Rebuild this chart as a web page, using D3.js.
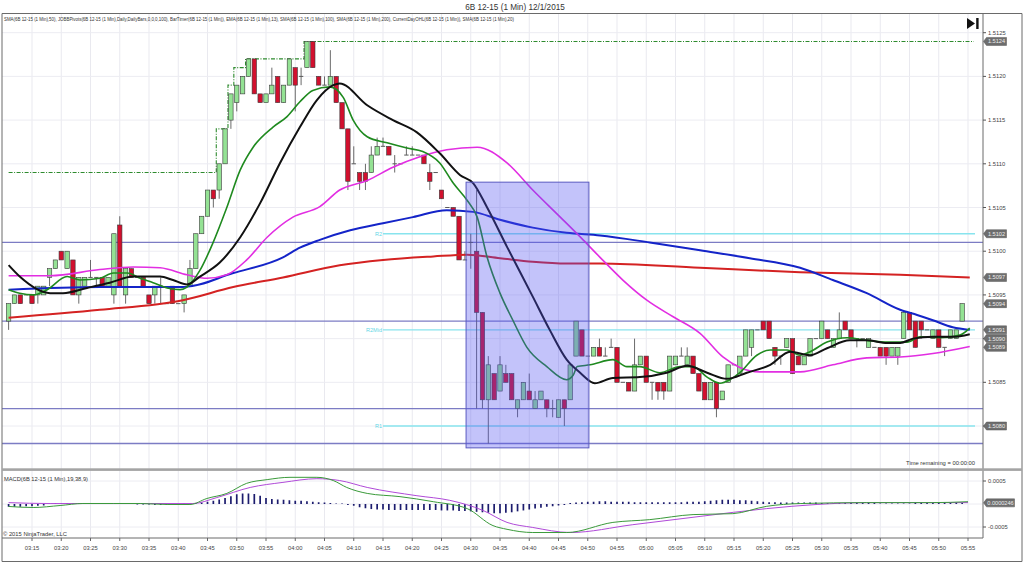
<!DOCTYPE html>
<html><head><meta charset="utf-8">
<script src="https://cdn.jsdelivr.net/npm/d3@7"></script>
<style>body{margin:0;background:#fff}svg{display:block;font-family:"Liberation Sans",Arial,sans-serif}</style>
</head><body><svg id="c" width="1024" height="563"></svg>
<script>
// ---------------- DATA ----------------
const title = "6B 12-15 (1 Min)  12/1/2015";
const indicatorText = "SMA(6B 12-15 (1 Min),50), JOBBPivots(6B 12-15 (1 Min),Daily,DailyBars,0,0,0,100), BarTimer(6B 12-15 (1 Min)), EMA(6B 12-15 (1 Min),13), SMA(6B 12-15 (1 Min),100), SMA(6B 12-15 (1 Min),200), CurrentDayOHL(6B 12-15 (1 Min)), SMA(6B 12-15 (1 Min),20)";
const firstBarTime = "03:11";
const timeLabels = ["03:15","03:20","03:25","03:30","03:35","03:40","03:45","03:50","03:55","04:00","04:05","04:10","04:15","04:20","04:25","04:30","04:35","04:40","04:45","04:50","04:55","05:00","05:05","05:10","05:15","05:20","05:25","05:30","05:35","05:40","05:45","05:50","05:55"];
const priceTicks = [1.5125,1.5120,1.5115,1.5110,1.5105,1.5100,1.5095,1.5090,1.5085,1.5080];
const macdTicks = [0.0005,-0.0005];

const opens = [1.5092,1.5094,1.5095,1.5095,1.5095,1.5095,1.5095,1.5097,1.5098,1.5100,1.5098,1.5099,1.5095,1.5096,1.5097,1.5097,1.5097,1.5096,1.5095,1.5103,
1.5095,1.5098,1.5097,1.5097,1.5095,1.5095,1.5096,1.5094,1.5096,1.5094,1.5094,1.5096,1.5098,1.5102,1.5104,1.5107,1.5107,1.5110,1.5115,1.5117,
1.5118,1.5120,1.5122,1.5118,1.5117,1.5118,1.5120,1.5117,1.5119,1.5121,1.5120,1.5121,1.5124,1.5120,1.5119,1.5119,1.5120,1.5117,1.5114,1.5110,
1.5109,1.5109,1.5109,1.5111,1.5112,1.5112,1.5110,1.5110,1.5111,1.5111,1.5111,1.5111,1.5109,1.5109,1.5107,1.5105,1.5105,1.5104,1.5099,1.5101,
1.5100,1.5093,1.5083,1.5086,1.5084,1.5086,1.5086,1.5082,1.5083,1.5084,1.5082,1.5083,1.5083,1.5082,1.5081,1.5083,1.5083,1.5088,1.5091,1.5088,
1.5088,1.5089,1.5088,1.5089,1.5089,1.5085,1.5085,1.5084,1.5087,1.5088,1.5085,1.5085,1.5085,1.5084,1.5087,1.5088,1.5087,1.5088,1.5086,1.5085,
1.5083,1.5085,1.5083,1.5085,1.5087,1.5086,1.5088,1.5089,1.5091,1.5092,1.5092,1.5089,1.5088,1.5089,1.5090,1.5088,1.5087,1.5088,1.5090,1.5090,
1.5091,1.5089,1.5090,1.5092,1.5091,1.5090,1.5090,1.5089,1.5089,1.5089,1.5089,1.5088,1.5088,1.5090,1.5093,1.5092,1.5092,1.5091,1.5090,1.5091,
1.5089,1.5090,1.5090,1.5092];
const highs = [1.5094,1.5095,1.5095,1.5095,1.5095,1.5096,1.5096,1.5098,1.5099,1.5100,1.5100,1.5099,1.5097,1.5097,1.5099,1.5097,1.5097,1.5097,1.5102,1.5104,
1.5098,1.5098,1.5097,1.5097,1.5095,1.5096,1.5097,1.5094,1.5096,1.5094,1.5095,1.5099,1.5102,1.5104,1.5107,1.5107,1.5110,1.5114,1.5118,1.5119,
1.5120,1.5122,1.5122,1.5118,1.5118,1.5121,1.5120,1.5119,1.5122,1.5121,1.5121,1.5124,1.5124,1.5120,1.5120,1.5123,1.5120,1.5117,1.5114,1.5112,
1.5109,1.5110,1.5112,1.5113,1.5113,1.5112,1.5111,1.5110,1.5112,1.5112,1.5111,1.5111,1.5110,1.5109,1.5107,1.5105,1.5105,1.5104,1.5100,1.5102,
1.5107,1.5093,1.5088,1.5086,1.5088,1.5087,1.5086,1.5083,1.5085,1.5086,1.5084,1.5084,1.5083,1.5083,1.5083,1.5083,1.5087,1.5092,1.5091,1.5088,
1.5089,1.5090,1.5089,1.5090,1.5089,1.5085,1.5085,1.5090,1.5088,1.5088,1.5085,1.5085,1.5085,1.5088,1.5088,1.5089,1.5089,1.5088,1.5086,1.5085,
1.5085,1.5085,1.5084,1.5087,1.5087,1.5088,1.5091,1.5091,1.5091,1.5092,1.5092,1.5089,1.5088,1.5090,1.5090,1.5088,1.5088,1.5090,1.5090,1.5092,
1.5091,1.5090,1.5093,1.5092,1.5091,1.5090,1.5090,1.5090,1.5089,1.5089,1.5089,1.5089,1.5089,1.5093,1.5093,1.5092,1.5092,1.5091,1.5091,1.5091,
1.5089,1.5091,1.5091,1.5094];
const lows = [1.5091,1.5094,1.5094,1.5095,1.5094,1.5094,1.5095,1.5096,1.5098,1.5099,1.5098,1.5095,1.5094,1.5096,1.5097,1.5096,1.5096,1.5096,1.5094,1.5096,
1.5094,1.5097,1.5097,1.5096,1.5094,1.5094,1.5094,1.5094,1.5094,1.5094,1.5093,1.5096,1.5098,1.5102,1.5104,1.5105,1.5106,1.5110,1.5114,1.5116,
1.5118,1.5120,1.5118,1.5117,1.5117,1.5118,1.5117,1.5117,1.5119,1.5116,1.5119,1.5121,1.5121,1.5119,1.5119,1.5119,1.5117,1.5114,1.5107,1.5110,
1.5107,1.5107,1.5109,1.5111,1.5112,1.5111,1.5109,1.5110,1.5111,1.5111,1.5111,1.5110,1.5107,1.5109,1.5106,1.5105,1.5104,1.5099,1.5099,1.5098,
1.5082,1.5082,1.5078,1.5083,1.5084,1.5085,1.5083,1.5081,1.5083,1.5083,1.5082,1.5083,1.5081,1.5081,1.5081,1.5080,1.5083,1.5088,1.5088,1.5088,
1.5088,1.5088,1.5088,1.5089,1.5085,1.5085,1.5084,1.5084,1.5087,1.5085,1.5083,1.5083,1.5083,1.5084,1.5087,1.5088,1.5087,1.5086,1.5084,1.5083,
1.5083,1.5081,1.5083,1.5085,1.5087,1.5086,1.5088,1.5088,1.5091,1.5091,1.5090,1.5087,1.5087,1.5089,1.5086,1.5087,1.5087,1.5088,1.5090,1.5090,
1.5090,1.5089,1.5090,1.5091,1.5090,1.5089,1.5090,1.5089,1.5089,1.5088,1.5087,1.5088,1.5087,1.5090,1.5091,1.5089,1.5090,1.5091,1.5090,1.5089,
1.5088,1.5090,1.5090,1.5092];
const closes = [1.5094,1.5095,1.5094,1.5095,1.5094,1.5096,1.5096,1.5098,1.5099,1.5099,1.5100,1.5095,1.5097,1.5097,1.5097,1.5097,1.5096,1.5097,1.5102,1.5096,
1.5098,1.5097,1.5097,1.5096,1.5094,1.5096,1.5096,1.5094,1.5094,1.5094,1.5095,1.5098,1.5102,1.5104,1.5107,1.5106,1.5110,1.5114,1.5118,1.5119,
1.5120,1.5122,1.5118,1.5117,1.5118,1.5119,1.5117,1.5119,1.5122,1.5119,1.5120,1.5124,1.5121,1.5119,1.5119,1.5120,1.5117,1.5114,1.5108,1.5110,
1.5108,1.5108,1.5111,1.5112,1.5112,1.5111,1.5110,1.5110,1.5111,1.5111,1.5111,1.5110,1.5108,1.5109,1.5106,1.5105,1.5104,1.5099,1.5099,1.5101,
1.5093,1.5083,1.5087,1.5083,1.5087,1.5085,1.5083,1.5083,1.5085,1.5083,1.5083,1.5084,1.5082,1.5082,1.5083,1.5082,1.5087,1.5092,1.5088,1.5088,
1.5089,1.5088,1.5088,1.5089,1.5085,1.5085,1.5084,1.5087,1.5088,1.5085,1.5085,1.5084,1.5084,1.5088,1.5088,1.5088,1.5088,1.5086,1.5084,1.5083,
1.5085,1.5082,1.5084,1.5087,1.5087,1.5088,1.5091,1.5091,1.5091,1.5091,1.5090,1.5088,1.5088,1.5090,1.5086,1.5087,1.5088,1.5090,1.5090,1.5092,
1.5090,1.5090,1.5091,1.5091,1.5090,1.5090,1.5090,1.5090,1.5089,1.5088,1.5088,1.5089,1.5089,1.5093,1.5091,1.5089,1.5091,1.5091,1.5091,1.5089,
1.5089,1.5091,1.5091,1.5094];

// moving averages: [bar index, price]
const ema13 = [[0,1.50956],[1.9,1.50952],[4.2,1.50950],[6.6,1.50956],[10,1.50971],[12.2,1.50967],[15.6,1.50969],[17.9,1.50975],[20.3,1.50975],[22.5,1.50969],[24.7,1.50964],[27.1,1.50958],[29.3,1.50956],[30.5,1.50959],[32.7,1.50978],[34.9,1.51009],[37.3,1.51050],[39.6,1.51093],[41.8,1.51119],[45.2,1.51142],[47.6,1.51154],[49.8,1.51171],[52,1.51184],[54.9,1.51188],[57.2,1.51176],[58.9,1.51150],[61.3,1.51131],[64.7,1.51124],[68.1,1.51118],[70.8,1.51114],[73.7,1.51101],[76,1.51078],[78.4,1.51058],[80.1,1.51039],[81.8,1.50993],[84,1.50952],[86.2,1.50921],[88.6,1.50890],[92,1.50868],[95.4,1.50853],[96.5,1.50858],[97.2,1.50868],[99.4,1.50870],[103.3,1.50876],[105.7,1.50868],[107.9,1.50868],[111.3,1.50861],[114.8,1.50868],[117,1.50868],[119.4,1.50856],[121.6,1.50849],[123.3,1.50853],[125,1.50861],[127.9,1.50881],[130.2,1.50887],[133.1,1.50887],[135.3,1.50881],[137,1.50885],[139.9,1.50896],[143.3,1.50901],[146.7,1.50898],[150.2,1.50896],[153.6,1.50896],[155.8,1.50902],[159.2,1.50901],[162.6,1.50904],[164.3,1.50912]];
const sma20 = [[0,1.50984],[1.9,1.50971],[7.1,1.50952],[9.3,1.50952],[13.4,1.50958],[17.3,1.50964],[21.3,1.50971],[25.9,1.50971],[28.1,1.50967],[30.5,1.50962],[32.7,1.50971],[36.1,1.50987],[39.6,1.51016],[43,1.51055],[46.4,1.51101],[49.8,1.51142],[52.7,1.51173],[55.5,1.51190],[56.6,1.51192],[61.3,1.51167],[65.7,1.51150],[69.8,1.51136],[73.7,1.51112],[77.2,1.51087],[79.4,1.51078],[81.8,1.51050],[85.2,1.51005],[89.6,1.50948],[92.5,1.50910],[95.4,1.50876],[97.7,1.50861],[100.2,1.50849],[103.3,1.50855],[107.9,1.50856],[112.5,1.50861],[116,1.50869],[119.4,1.50861],[122.8,1.50854],[126.2,1.50861],[130.2,1.50870],[133.6,1.50885],[137,1.50881],[139.9,1.50889],[143.8,1.50898],[146.7,1.50898],[150.2,1.50895],[152.4,1.50895],[154.6,1.50900],[158,1.50902],[161.4,1.50902],[164.3,1.50905]];
const sma50 = [[0,1.50972],[7.1,1.50972],[15.6,1.50979],[21.3,1.50982],[25.9,1.50981],[30.5,1.50973],[33.9,1.50969],[37.3,1.50973],[40.7,1.50990],[44.2,1.51016],[48.6,1.51039],[53.2,1.51051],[56.6,1.51070],[61.3,1.51081],[65.7,1.51096],[70.3,1.51108],[74.9,1.51116],[80.1,1.51119],[85.2,1.51101],[89.6,1.51070],[94.3,1.51039],[98.2,1.51013],[101.1,1.50993],[105,1.50967],[109.1,1.50944],[113.6,1.50925],[118.2,1.50906],[122.1,1.50879],[125,1.50867],[128.4,1.50862],[135.3,1.50862],[140.9,1.50870],[146.7,1.50878],[152.4,1.50879],[158,1.50883],[164.3,1.50891]];
const sma100 = [[0,1.50956],[15.6,1.50959],[29.8,1.50959],[38.4,1.50975],[46.9,1.50993],[49.8,1.51004],[53.2,1.51013],[58.4,1.51024],[64,1.51032],[69.1,1.51039],[74.9,1.51047],[79.4,1.51045],[84,1.51036],[89.6,1.51027],[95.4,1.51021],[101.1,1.51018],[109.6,1.51010],[118.2,1.51001],[126.7,1.50992],[135.3,1.50981],[140.9,1.50967],[146.7,1.50952],[152.4,1.50933],[155.3,1.50927],[158,1.50921],[161.4,1.50913],[164.3,1.50910]];
const sma200 = [[0,1.50924],[15.6,1.50933],[29.8,1.50944],[38.4,1.50959],[46.9,1.50970],[56.6,1.50984],[64,1.50990],[72.6,1.50994],[78.4,1.50996],[84,1.50992],[89.6,1.50988],[95.4,1.50986],[101.1,1.50986],[118.2,1.50981],[135.3,1.50976],[152.4,1.50973],[164.3,1.50970]];

// MACD(19,38,9)
const macdLine = [[0,-0.000054],[4.2,-0.000076],[8.8,-0.000033],[12.7,0.000011],[17.9,0.000011],[22.5,0.000011],[27.1,-0.000011],[31,-0.000011],[33.9,0.00012],[37.3,0.00023],[40.7,0.00045],[44.2,0.00053],[48.1,0.00058],[52.7,0.00058],[55.5,0.00051],[57.8,0.00036],[61.3,0.00023],[66.9,0.00016],[72.6,0.00005],[78.4,-0.0001],[82.8,-0.00047],[85.2,-0.00055],[89.6,-0.00062],[95.4,-0.00062],[103.3,-0.0004],[109.6,-0.00034],[117,-0.00023],[123.8,-0.00021],[129.6,-0.00005],[135.3,0.00001],[146.7,0.00003],[158,0.00003],[164,0.00005]];
const macdSignal = [[0,0.00003],[7.1,0.00001],[15.6,0.00001],[24.2,0.00001],[31.5,0.00001],[35.6,0.00014],[41.3,0.00036],[46.9,0.00047],[52.7,0.00055],[56.6,0.00051],[61.3,0.00036],[69.8,0.00018],[75.4,0.00008],[81.1,-0.00014],[85.2,-0.0004],[89.6,-0.00051],[96,-0.00062],[106.7,-0.00045],[118.2,-0.00027],[129.6,-0.0001],[138.2,-0.00001],[146.7,0.00003],[164,0.00003]];
const macdHist = [-0.00006,-0.00006,-0.00006,-0.00005,-0.00005,-0.00004,-0.00003,
0.00001,0.00002,0.00002,0.00002,0.00002,0.00002,0.00001,0.00001,0.00001,0.00001,
0.00001,0.00001,0,0,0,-0.00001,-0.00001,-0.00001,-0.00002,-0.00002,-0.00002,-0.00001,
-0.00001,0,0.00001,0.00002,0.00003,
0.00005,0.00007,0.0001,0.00013,0.00017,0.00021,0.00023,0.00023,0.00022,
0.00018,0.00013,0.00011,0.0001,0.00009,0.00008,0.00007,0.00007,0.00006,0.00005,
0.00004,0.00003,0.00002,0.00001,0,
-0.00002,-0.00004,-0.00007,-0.00009,-0.00011,-0.00012,-0.00012,-0.00013,-0.00013,-0.00013,-0.00013,-0.00013,-0.00013,-0.00013,-0.00013,-0.00013,-0.00014,-0.00014,
-0.00014,-0.00015,-0.00015,-0.00016,-0.00017,-0.00018,-0.00019,-0.0002,-0.0002,-0.00019,
-0.00018,-0.00016,-0.00014,-0.00012,-0.0001,-0.00008,-0.00006,-0.00005,-0.00003,-0.00002,
0.00002,0.00003,0.00004,0.00005,0.00005,0.00006,0.00006,0.00005,0.00005,0.00005,0.00005,0.00004,0.00004,0.00004,0.00004,
0.00004,0.00004,0.00004,0.00004,0.00004,0.00005,0.00005,0.00005,0.00006,0.00007,0.00008,0.00009,0.00009,0.00009,0.00008,
0.00008,0.00007,0.00006,0.00005,0.00004,0.00004,0.00003,0.00003,0.00003,0.00003,0.00003,0.00003,0.00003,0.00002,0.00002,
0.00002,0.00002,0.00002,0.00002,0.00002,0.00002,0.00002,0.00002,0.00001,0.00001,0.00001,0.00001,0.00001,0.00001,0.00002,0.00002,0.00002,0.00002,0.00002,0.00002,0.00003,0.00003,0.00002];
const macdLast = "0.0000246";

// CurrentDayOHL high (step line)
const dayHighIdx = [0,35.5,37.5,38.5,40.5,50.5,165];
const dayHighVal = [1.5109,1.5114,1.5119,1.5121,1.5122,1.5124,1.5124];
// pivot / level lines
const levelLines = [1.5101,1.5092,1.5082,1.5078];
const pivotNames = ["R2","R2Mid","R1"];
const pivotVals = [1.5102,1.5091,1.5080];
const pivotStartIdx = 64;
// highlighted zone
const zoneIdx = [78.2,99.2];
const zonePrice = [1.51079,1.50775];
// right-axis value markers
const markerVals = [1.5124,1.5102,1.5097,1.5094,1.5091,1.5090,1.5089,1.5080];

// ---------------- DRAW ----------------
const svg = d3.select("#c");
const L=2, R=983, T=13.5, MB=468, MT=471.5, BB=538, RIGHT=1022;
const toMin = s => { const [h,m]=s.split(":").map(Number); return h*60+m; };
const t0 = toMin(firstBarTime);
const x = d3.scaleLinear().domain([0,164]).range([8.6,968]);
const y = d3.scaleLinear().domain([1.5078,1.5125]).range([443.5,32.7]);
const ym = d3.scaleLinear().domain([-0.0005,0.0005]).range([527,481]);

svg.append("rect").attr("width",1024).attr("height",563).attr("fill","#fff");

// title
svg.append("text").attr("x",515).attr("y",9.5).attr("text-anchor","middle").attr("font-size",8.2).attr("fill","#333").text(title);

// clip
const defs = svg.append("defs");
defs.append("clipPath").attr("id","cm").append("rect").attr("x",L).attr("y",T).attr("width",R-L).attr("height",MB-T);
defs.append("clipPath").attr("id","cd").append("rect").attr("x",L).attr("y",MT).attr("width",R-L).attr("height",BB-MT);

// grid
const tickIdx = timeLabels.map(s => toMin(s)-t0);
const grid = svg.append("g");
grid.selectAll("line.v").data(tickIdx).join("line").attr("x1",d=>x(d)).attr("x2",d=>x(d)).attr("y1",T).attr("y2",BB).attr("stroke","#e9e9ef").attr("stroke-width",1);
grid.selectAll("line.h").data(priceTicks).join("line").attr("x1",L).attr("x2",R).attr("y1",d=>y(d)).attr("y2",d=>y(d)).attr("stroke","#ececf2");
grid.selectAll("line.m").data([0.0005,0,-0.0005]).join("line").attr("x1",L).attr("x2",R).attr("y1",d=>ym(d)).attr("y2",d=>ym(d)).attr("stroke","#ececf2");

const main = svg.append("g").attr("clip-path","url(#cm)");

// level lines
main.selectAll("line.lv").data(levelLines).join("line").attr("x1",L).attr("x2",R).attr("y1",d=>y(d)).attr("y2",d=>y(d)).attr("stroke","#7c7cc4").attr("stroke-width",1.3);
main.selectAll("line.pv").data(pivotVals).join("line").attr("x1",x(pivotStartIdx)).attr("x2",975).attr("y1",d=>y(d)).attr("y2",d=>y(d)).attr("stroke","#88e4ee").attr("stroke-width",1.3);
main.selectAll("text.pv").data(pivotVals).join("text").attr("x",x(pivotStartIdx)-1).attr("y",d=>y(d)+2).attr("text-anchor","end").attr("font-size",5.5).attr("fill","#5fd6e6").text((d,i)=>pivotNames[i]);

// day high step line
const dh = dayHighIdx.map((d,i)=>[d,dayHighVal[i]]);
main.append("path").attr("d",d3.line().x(d=>x(d[0])).y(d=>y(d[1])).curve(d3.curveStepAfter)(dh))
  .attr("fill","none").attr("stroke","#2e8b2e").attr("stroke-width",1.1).attr("stroke-dasharray","4,1.5,1,1.5");

// candles
const bars = opens.map((o,i)=>({i,o,h:highs[i],l:lows[i],c:closes[i]}));
const bw = 4.4;
const cg = main.append("g");
cg.selectAll("line.w").data(bars).join("line").attr("x1",d=>x(d.i)).attr("x2",d=>x(d.i)).attr("y1",d=>y(d.h)).attr("y2",d=>y(d.l)).attr("stroke","#5a5a5a").attr("stroke-width",0.9);
cg.selectAll("rect.b").data(bars.filter(d=>d.o!==d.c)).join("rect")
  .attr("x",d=>x(d.i)-bw/2).attr("width",bw)
  .attr("y",d=>y(Math.max(d.o,d.c))).attr("height",d=>Math.abs(y(d.o)-y(d.c)))
  .attr("fill",d=>d.c>d.o?"#94e294":"#d2102e").attr("stroke","#3a3a3a").attr("stroke-width",0.6);
cg.selectAll("line.d").data(bars.filter(d=>d.o===d.c)).join("line")
  .attr("x1",d=>x(d.i)-bw/2).attr("x2",d=>x(d.i)+bw/2).attr("y1",d=>y(d.c)).attr("y2",d=>y(d.c)).attr("stroke","#5a5a5a").attr("stroke-width",1);

// moving averages
const lineGen = d3.line().x(d=>x(d[0])).y(d=>y(d[1])).curve(d3.curveMonotoneX);
[[sma200,"#d42222",2],[sma100,"#1424c8",2],[sma50,"#e22ee2",1.6],[ema13,"#1f8a1f",1.6],[sma20,"#111111",2]].forEach(([s,c,w])=>{
  main.append("path").attr("d",lineGen(s)).attr("fill","none").attr("stroke",c).attr("stroke-width",w);
});

// highlight zone
main.append("rect").attr("x",x(zoneIdx[0])).attr("width",x(zoneIdx[1])-x(zoneIdx[0]))
  .attr("y",y(zonePrice[0])).attr("height",y(zonePrice[1])-y(zonePrice[0]))
  .attr("fill","#5050f0").attr("fill-opacity",0.34).attr("stroke","#5a5ac0").attr("stroke-width",1);

// MACD panel
const mg = svg.append("g").attr("clip-path","url(#cd)");
mg.selectAll("line.hb").data(macdHist).join("line").attr("x1",(d,i)=>x(i)).attr("x2",(d,i)=>x(i)).attr("y1",ym(0)).attr("y2",d=>ym(d)===ym(0)?ym(0)-0.6:ym(d))
  .attr("stroke","#1c1c6e").attr("stroke-width",1.7);
const mline = d3.line().x(d=>x(d[0])).y(d=>ym(d[1])).curve(d3.curveMonotoneX);
mg.append("path").attr("d",mline(macdSignal)).attr("fill","none").attr("stroke","#b04ad8").attr("stroke-width",1);
mg.append("path").attr("d",mline(macdLine)).attr("fill","none").attr("stroke","#3a9a3a").attr("stroke-width",1);

// frames
const fr = svg.append("g").attr("fill","none").attr("stroke","#6a6a6a");
fr.append("line").attr("x1",L).attr("x2",RIGHT).attr("y1",T).attr("y2",T).attr("stroke-width",1);
fr.append("line").attr("x1",L).attr("x2",L).attr("y1",T).attr("y2",561.5).attr("stroke-width",1);
fr.append("line").attr("x1",RIGHT).attr("x2",RIGHT).attr("y1",T).attr("y2",561.5).attr("stroke-width",1);
fr.append("line").attr("x1",L).attr("x2",RIGHT).attr("y1",561.5).attr("y2",561.5).attr("stroke-width",1);
fr.append("line").attr("x1",L).attr("x2",R).attr("y1",BB).attr("y2",BB).attr("stroke-width",1);
fr.append("line").attr("x1",R).attr("x2",R).attr("y1",T).attr("y2",BB).attr("stroke-width",1);
svg.append("rect").attr("x",L).attr("y",468.3).attr("width",RIGHT-L).attr("height",2.6).attr("fill","#a4a4a4");

// texts
svg.append("text").attr("x",4).attr("y",20.5).attr("font-size",5).attr("fill","#333").attr("textLength",510).attr("lengthAdjust","spacingAndGlyphs").text(indicatorText);
svg.append("text").attr("x",4).attr("y",481).attr("font-size",5.2).attr("fill","#333").attr("textLength",84).attr("lengthAdjust","spacingAndGlyphs").text("MACD(6B 12-15 (1 Min),19,38,9)");
svg.append("text").attr("x",3).attr("y",536).attr("font-size",5.4).attr("fill","#333").attr("textLength",64).attr("lengthAdjust","spacingAndGlyphs").text("\u00A9 2015 NinjaTrader, LLC");
svg.append("text").attr("x",975).attr("y",464.5).attr("text-anchor","end").attr("font-size",5.8).attr("fill","#333").text("Time remaining = 00:00:00");

// play icon
svg.append("path").attr("d","M967,18 L967,29 L975,23.5 Z").attr("fill","#111");
svg.append("rect").attr("x",976.2).attr("y",18).attr("width",2.4).attr("height",11).attr("fill","#111");

// right price axis
const ax = svg.append("g");
ax.selectAll("line.t").data(priceTicks).join("line").attr("x1",R).attr("x2",R+3).attr("y1",d=>y(d)).attr("y2",d=>y(d)).attr("stroke","#555");
ax.selectAll("text.t").data(priceTicks).join("text").attr("x",R+5).attr("y",d=>y(d)+2).attr("font-size",5.8).attr("fill","#444").text(d=>d.toFixed(4));
ax.selectAll("line.mt").data(macdTicks).join("line").attr("x1",R).attr("x2",R+3).attr("y1",d=>ym(d)).attr("y2",d=>ym(d)).attr("stroke","#555");
ax.selectAll("text.mt").data(macdTicks).join("text").attr("x",R+5).attr("y",d=>ym(d)+2).attr("font-size",5.8).attr("fill","#444").text(d=>d.toFixed(4));

// value markers
function marker(yy, txt, w){
  const g = svg.append("g");
  g.append("path").attr("d",`M${R+0.5},${yy} L${R+3.5},${yy-4} L${R+3.5+w},${yy-4} L${R+3.5+w},${yy+4} L${R+3.5},${yy+4} Z`).attr("fill","#6e6e6e").attr("stroke","#555").attr("stroke-width",0.5);
  g.append("text").attr("x",R+3.5+w/2).attr("y",yy+2).attr("text-anchor","middle").attr("font-size",5.6).attr("fill","#eee").text(txt);
}
markerVals.forEach(v=>marker(y(v), v.toFixed(4), 20));
marker(ym(+macdLast), macdLast, 28);

// time axis
const tx = svg.append("g");
tx.selectAll("line").data(tickIdx).join("line").attr("x1",d=>x(d)).attr("x2",d=>x(d)).attr("y1",BB).attr("y2",BB+3).attr("stroke","#666");
tx.selectAll("text").data(timeLabels).join("text").attr("x",(d,i)=>x(tickIdx[i])).attr("y",550).attr("text-anchor","middle").attr("font-size",5.8).attr("fill","#444").text(d=>d);
</script>
</body></html>
